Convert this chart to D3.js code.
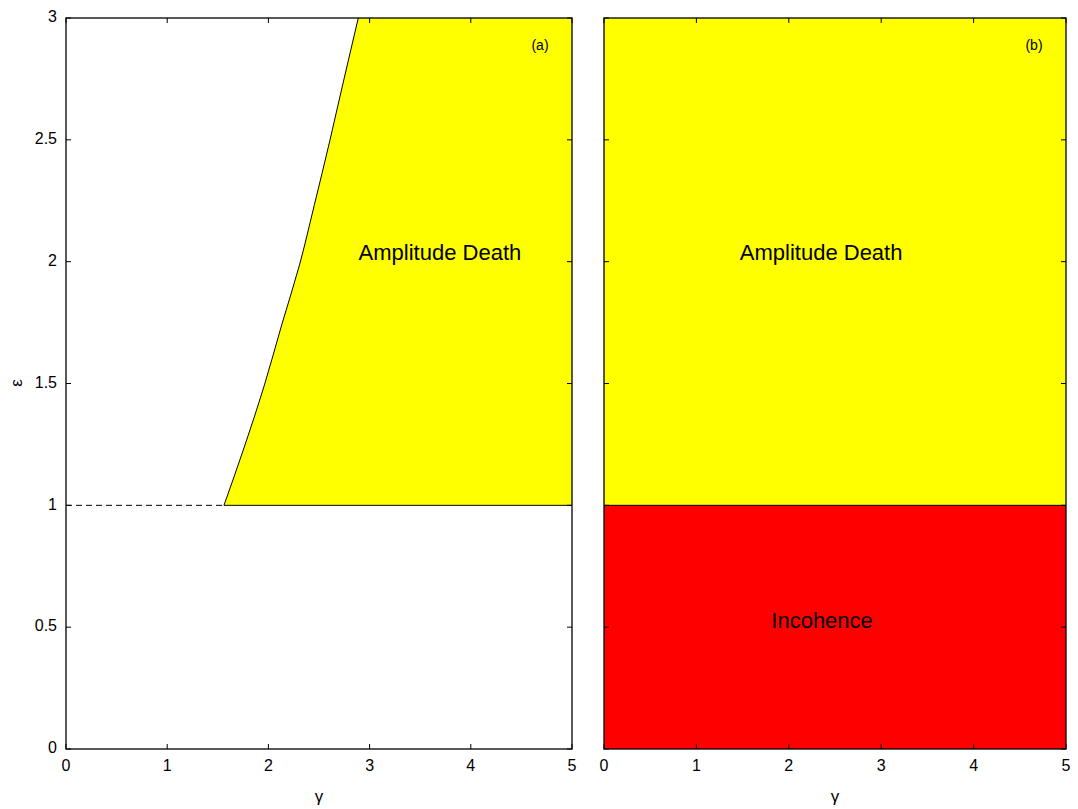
<!DOCTYPE html>
<html>
<head>
<meta charset="utf-8">
<script src="https://cdn.jsdelivr.net/npm/d3@7"></script>
<style>
  body { margin: 0; background: #fff; }
  text { font-family: "Liberation Sans", Arial, sans-serif; fill: #000; }
</style>
</head>
<body>
<svg id="chart" width="1078" height="809"></svg>
<script>
// boundary of the amplitude death region in panel (a)
var boundaryGamma = [1.561, 1.769, 1.961, 2.131, 2.307, 2.454, 2.604, 2.740, 2.888]
var boundaryEps = [1.0, 1.248, 1.494, 1.740, 1.986, 2.233, 2.491, 2.737, 3.0]
var xTicks = [0, 1, 2, 3, 4, 5]
var yTicks = [0, 0.5, 1, 1.5, 2, 2.5, 3]
var yTickLabels = ["0", "0.5", "1", "1.5", "2", "2.5", "3"]
var epsSplit = 1

var svg = d3.select("#chart")
var panels = [
    { left: 66, right: 572, name: "(a)", yLabels: true },
    { left: 604, right: 1066, name: "(b)", yLabels: false }
]
var plotTop = 18, plotBottom = 749, tickLen = 5

panels.forEach((p, i) => {
    var x = d3.scaleLinear().domain([0, 5]).range([p.left, p.right])
    var y = d3.scaleLinear().domain([0, 3]).range([plotBottom, plotTop])
    var g = svg.append("g")

    if (i == 0) {
        // yellow region bounded by the curve on the left and eps = 1 below
        var pts = boundaryGamma.map((d, k) => [d, boundaryEps[k]])
        var curve = d3.line().x(d => x(d[0])).y(d => y(d[1])).curve(d3.curveMonotoneY)(pts)
        var fillPath = curve + "L" + x(5) + "," + y(3) + "L" + x(5) + "," + y(epsSplit) + "Z"
        g.append("path").attr("d", fillPath).attr("fill", "#ffff00").attr("stroke", "none")
        g.append("path").attr("d", curve)
            .attr("fill", "none").attr("stroke", "#000").attr("stroke-width", 1)
        g.append("line").attr("x1", x(boundaryGamma[0])).attr("x2", x(5)).attr("y1", y(epsSplit)).attr("y2", y(epsSplit))
            .attr("stroke", "#000").attr("stroke-width", 1)
        g.append("line").attr("x1", x(0)).attr("x2", x(boundaryGamma[0])).attr("y1", y(epsSplit)).attr("y2", y(epsSplit))
            .attr("stroke", "#000").attr("stroke-width", 1).attr("stroke-dasharray", "6,4")
        g.append("text").attr("x", x(3.695)).attr("y", y(2.03)).attr("text-anchor", "middle")
            .attr("dominant-baseline", "middle").attr("font-size", 22).text("Amplitude Death")
    } else {
        g.append("rect").attr("x", x(0)).attr("y", y(3)).attr("width", x(5) - x(0)).attr("height", y(epsSplit) - y(3)).attr("fill", "#ffff00")
        g.append("rect").attr("x", x(0)).attr("y", y(epsSplit)).attr("width", x(5) - x(0)).attr("height", y(0) - y(epsSplit)).attr("fill", "#ff0000")
        g.append("line").attr("x1", x(0)).attr("x2", x(5)).attr("y1", y(epsSplit)).attr("y2", y(epsSplit))
            .attr("stroke", "#000").attr("stroke-width", 1)
        g.append("text").attr("x", x(2.35)).attr("y", y(2.03)).attr("text-anchor", "middle")
            .attr("dominant-baseline", "middle").attr("font-size", 22).text("Amplitude Death")
        g.append("text").attr("x", x(2.36)).attr("y", y(0.52)).attr("text-anchor", "middle")
            .attr("dominant-baseline", "middle").attr("font-size", 22).text("Incohence")
    }

    // ticks pointing inward on all four sides
    xTicks.forEach(t => {
        g.append("line").attr("x1", x(t)).attr("x2", x(t)).attr("y1", plotBottom).attr("y2", plotBottom - tickLen).attr("stroke", "#000")
        g.append("line").attr("x1", x(t)).attr("x2", x(t)).attr("y1", plotTop).attr("y2", plotTop + tickLen).attr("stroke", "#000")
        g.append("text").attr("x", x(t)).attr("y", plotBottom + 18).attr("text-anchor", "middle")
            .attr("dominant-baseline", "middle").attr("font-size", 16).text(t)
    })
    yTicks.forEach((t, k) => {
        g.append("line").attr("x1", p.left).attr("x2", p.left + tickLen).attr("y1", y(t)).attr("y2", y(t)).attr("stroke", "#000")
        g.append("line").attr("x1", p.right).attr("x2", p.right - tickLen).attr("y1", y(t)).attr("y2", y(t)).attr("stroke", "#000")
        if (p.yLabels) {
            g.append("text").attr("x", p.left - 9).attr("y", y(t)).attr("text-anchor", "end")
                .attr("dominant-baseline", "middle").attr("font-size", 16).text(yTickLabels[k])
        }
    })
    g.append("rect").attr("x", p.left).attr("y", plotTop).attr("width", p.right - p.left).attr("height", plotBottom - plotTop)
        .attr("fill", "none").attr("stroke", "#000").attr("stroke-width", 1.3)

    g.append("text").attr("x", p.right - 32).attr("y", 46).attr("text-anchor", "middle")
        .attr("dominant-baseline", "middle").attr("font-size", 14).text(p.name)
    g.append("text").attr("x", (p.left + p.right) / 2).attr("y", 798).attr("text-anchor", "middle")
        .attr("dominant-baseline", "middle").attr("font-size", 17).attr("font-family", "DejaVu Serif, serif").text("γ")
})

svg.append("text").attr("transform", "translate(18,383) rotate(-90)").attr("text-anchor", "middle")
    .attr("dominant-baseline", "middle").attr("font-size", 17).attr("font-family", "DejaVu Serif, serif").text("ε")
</script>
</body>
</html>
